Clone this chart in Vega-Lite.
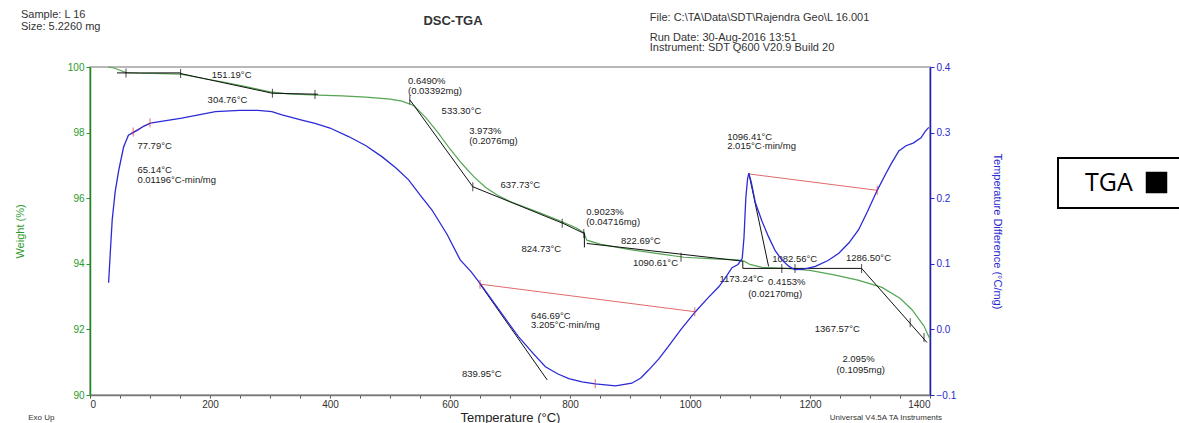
{
  "$schema": "https://vega.github.io/schema/vega-lite/v6.json",
  "width": 840,
  "height": 328,
  "autosize": "none",
  "padding": {"left": 90, "top": 67, "right": 249, "bottom": 28},
  "background": "white",
  "config": {
    "font": "Liberation Sans",
    "view": {"stroke": "#b8b8b8", "strokeWidth": 2},
    "axis": {"grid": false, "labelFont": "Liberation Sans", "titleFont": "Liberation Sans"}
  },
  "datasets": {
    "tga": [
      {"T": 30, "W": 100.0}, {"T": 40, "W": 99.97}, {"T": 50, "W": 99.9}, {"T": 60, "W": 99.83},
      {"T": 80, "W": 99.81}, {"T": 120, "W": 99.8}, {"T": 151, "W": 99.78}, {"T": 180, "W": 99.68},
      {"T": 220, "W": 99.55}, {"T": 260, "W": 99.4}, {"T": 300, "W": 99.24}, {"T": 330, "W": 99.18},
      {"T": 380, "W": 99.14}, {"T": 420, "W": 99.12}, {"T": 460, "W": 99.08}, {"T": 500, "W": 99.02},
      {"T": 520, "W": 98.96}, {"T": 540, "W": 98.82}, {"T": 560, "W": 98.45}, {"T": 580, "W": 98.0},
      {"T": 600, "W": 97.5}, {"T": 620, "W": 97.05}, {"T": 640, "W": 96.65}, {"T": 660, "W": 96.32},
      {"T": 680, "W": 96.08}, {"T": 700, "W": 95.9}, {"T": 740, "W": 95.62}, {"T": 780, "W": 95.33},
      {"T": 810, "W": 95.1}, {"T": 823, "W": 94.95}, {"T": 828, "W": 94.72}, {"T": 850, "W": 94.6},
      {"T": 900, "W": 94.43}, {"T": 950, "W": 94.3}, {"T": 990, "W": 94.2}, {"T": 1040, "W": 94.15},
      {"T": 1080, "W": 94.12}, {"T": 1090, "W": 94.08}, {"T": 1100, "W": 93.98}, {"T": 1120, "W": 93.89},
      {"T": 1160, "W": 93.86}, {"T": 1200, "W": 93.8}, {"T": 1240, "W": 93.66}, {"T": 1280, "W": 93.5},
      {"T": 1320, "W": 93.28}, {"T": 1350, "W": 92.95}, {"T": 1370, "W": 92.6}, {"T": 1390, "W": 92.1},
      {"T": 1400, "W": 91.7}
    ],
    "dsc": [
      {"T": 31, "D": 0.071}, {"T": 34, "D": 0.12}, {"T": 37, "D": 0.167}, {"T": 42, "D": 0.21},
      {"T": 48, "D": 0.243}, {"T": 56, "D": 0.278}, {"T": 64, "D": 0.296}, {"T": 78, "D": 0.303},
      {"T": 90, "D": 0.31}, {"T": 103, "D": 0.315}, {"T": 153, "D": 0.322}, {"T": 209, "D": 0.332},
      {"T": 250, "D": 0.334}, {"T": 280, "D": 0.334}, {"T": 303, "D": 0.332}, {"T": 320, "D": 0.327},
      {"T": 353, "D": 0.319}, {"T": 375, "D": 0.314}, {"T": 400, "D": 0.307}, {"T": 431, "D": 0.294},
      {"T": 460, "D": 0.28}, {"T": 487, "D": 0.263}, {"T": 510, "D": 0.246}, {"T": 531, "D": 0.228},
      {"T": 550, "D": 0.205}, {"T": 570, "D": 0.182}, {"T": 595, "D": 0.145}, {"T": 617, "D": 0.106},
      {"T": 635, "D": 0.088}, {"T": 650, "D": 0.07}, {"T": 680, "D": 0.032}, {"T": 714, "D": -0.011},
      {"T": 740, "D": -0.038}, {"T": 759, "D": -0.057}, {"T": 780, "D": -0.068}, {"T": 798, "D": -0.075},
      {"T": 820, "D": -0.08}, {"T": 842, "D": -0.083}, {"T": 876, "D": -0.086}, {"T": 903, "D": -0.082},
      {"T": 918, "D": -0.074}, {"T": 931, "D": -0.062}, {"T": 948, "D": -0.045}, {"T": 964, "D": -0.026},
      {"T": 985, "D": 0.0}, {"T": 1009, "D": 0.027}, {"T": 1030, "D": 0.048}, {"T": 1048, "D": 0.065},
      {"T": 1060, "D": 0.08}, {"T": 1070, "D": 0.094}, {"T": 1080, "D": 0.099}, {"T": 1087, "D": 0.108},
      {"T": 1090, "D": 0.14}, {"T": 1093, "D": 0.2}, {"T": 1096, "D": 0.23}, {"T": 1098, "D": 0.238},
      {"T": 1102, "D": 0.225}, {"T": 1109, "D": 0.193}, {"T": 1120, "D": 0.165}, {"T": 1131, "D": 0.141},
      {"T": 1142, "D": 0.12}, {"T": 1153, "D": 0.106}, {"T": 1165, "D": 0.096}, {"T": 1175, "D": 0.091},
      {"T": 1190, "D": 0.092}, {"T": 1209, "D": 0.096}, {"T": 1230, "D": 0.105}, {"T": 1248, "D": 0.116},
      {"T": 1265, "D": 0.132}, {"T": 1281, "D": 0.152}, {"T": 1296, "D": 0.18}, {"T": 1312, "D": 0.212},
      {"T": 1325, "D": 0.235}, {"T": 1335, "D": 0.252}, {"T": 1348, "D": 0.272}, {"T": 1360, "D": 0.28},
      {"T": 1372, "D": 0.284}, {"T": 1385, "D": 0.292}, {"T": 1392, "D": 0.302}, {"T": 1398, "D": 0.308}
    ],
    "tgaSeg": [
      {"s": "a", "T": 45, "W": 99.82}, {"s": "a", "T": 151, "W": 99.82},
      {"s": "b", "T": 151, "W": 99.8}, {"s": "b", "T": 304, "W": 99.2},
      {"s": "c", "T": 304, "W": 99.2}, {"s": "c", "T": 380, "W": 99.17},
      {"s": "d", "T": 533, "W": 99.0}, {"s": "d", "T": 638, "W": 96.35},
      {"s": "e", "T": 638, "W": 96.35}, {"s": "e", "T": 790, "W": 95.22},
      {"s": "f", "T": 790, "W": 95.22}, {"s": "f", "T": 823, "W": 94.93},
      {"s": "g", "T": 824, "W": 94.95}, {"s": "g", "T": 824, "W": 94.5},
      {"s": "h", "T": 828, "W": 94.62}, {"s": "h", "T": 1088, "W": 94.08},
      {"s": "i", "T": 1088, "W": 94.08}, {"s": "i", "T": 1088, "W": 93.86},
      {"s": "j", "T": 1088, "W": 93.86}, {"s": "j", "T": 1286, "W": 93.86},
      {"s": "k", "T": 1286, "W": 93.86}, {"s": "k", "T": 1395, "W": 91.6}
    ],
    "tgaTicks": [
      {"T": 60, "W": 99.82}, {"T": 151, "W": 99.8}, {"T": 304, "W": 99.2}, {"T": 375, "W": 99.16},
      {"T": 533, "W": 99.0}, {"T": 638, "W": 96.35}, {"T": 787, "W": 95.24}, {"T": 823, "W": 94.92},
      {"T": 985, "W": 94.2}, {"T": 1153, "W": 93.86}, {"T": 1175, "W": 93.86}, {"T": 1286, "W": 93.86},
      {"T": 1367, "W": 92.2}, {"T": 1390, "W": 91.75}
    ],
    "dscSeg": [
      {"s": "a", "T": 650, "D": 0.069}, {"s": "a", "T": 762, "D": -0.077},
      {"s": "b", "T": 1098, "D": 0.238}, {"s": "b", "T": 1131, "D": 0.096}
    ],
    "redSeg": [
      {"s": "a", "T": 650, "D": 0.069}, {"s": "a", "T": 1008, "D": 0.027},
      {"s": "b", "T": 1098, "D": 0.237}, {"s": "b", "T": 1312, "D": 0.212},
      {"s": "c", "T": 68, "D": 0.299}, {"s": "c", "T": 100, "D": 0.315}
    ],
    "redTicks": [
      {"T": 650, "D": 0.069}, {"T": 1008, "D": 0.027}, {"T": 842, "D": -0.083},
      {"T": 1312, "D": 0.212}, {"T": 72, "D": 0.301}, {"T": 100, "D": 0.315}
    ],
    "notes": [
      {"T": 203, "W": 99.76, "label": "151.19°C"},
      {"T": 196, "W": 98.99, "label": "304.76°C"},
      {"T": 530, "W": 99.57, "label": "0.6490%"},
      {"T": 530, "W": 99.27, "label": "(0.03392mg)"},
      {"T": 586, "W": 98.66, "label": "533.30°C"},
      {"T": 632, "W": 98.05, "label": "3.973%"},
      {"T": 632, "W": 97.74, "label": "(0.2076mg)"},
      {"T": 684, "W": 96.4, "label": "637.73°C"},
      {"T": 827, "W": 95.58, "label": "0.9023%"},
      {"T": 827, "W": 95.27, "label": "(0.04716mg)"},
      {"T": 885, "W": 94.7, "label": "822.69°C"},
      {"T": 719, "W": 94.45, "label": "824.73°C"},
      {"T": 905, "W": 94.02, "label": "1090.61°C"},
      {"T": 1062, "W": 97.87, "label": "1096.41°C"},
      {"T": 1062, "W": 97.59, "label": "2.015°C·min/mg"},
      {"T": 1137, "W": 94.15, "label": "1082.56°C"},
      {"T": 1049, "W": 93.54, "label": "1173.24°C"},
      {"T": 1130, "W": 93.45, "label": "0.4153%"},
      {"T": 1097, "W": 93.08, "label": "(0.02170mg)"},
      {"T": 1260, "W": 94.18, "label": "1286.50°C"},
      {"T": 1208, "W": 92.01, "label": "1367.57°C"},
      {"T": 1254, "W": 91.1, "label": "2.095%"},
      {"T": 1244, "W": 90.77, "label": "(0.1095mg)"},
      {"T": 735, "W": 92.41, "label": "646.69°C"},
      {"T": 735, "W": 92.13, "label": "3.205°C·min/mg"},
      {"T": 620, "W": 90.64, "label": "839.95°C"},
      {"T": 79, "W": 97.59, "label": "77.79°C"},
      {"T": 79, "W": 96.86, "label": "65.14°C"},
      {"T": 79, "W": 96.55, "label": "0.01196°C-min/mg"}
    ],
    "header": [
      {"T": -115, "W": 101.59, "label": "Sample: L 16"},
      {"T": -115, "W": 101.22, "label": "Size:  5.2260 mg"},
      {"T": 933, "W": 101.49, "label": "File: C:\\TA\\Data\\SDT\\Rajendra Geo\\L 16.001"},
      {"T": 933, "W": 100.88, "label": "Run Date: 30-Aug-2016 13:51"},
      {"T": 933, "W": 100.58, "label": "Instrument: SDT Q600 V20.9 Build 20"}
    ],
    "title": [
      {"T": 605, "W": 101.4, "label": "DSC-TGA"}
    ],
    "footer": [
      {"T": -103, "W": 89.3, "label": "Exo Up"},
      {"T": 1233, "W": 89.3, "label": "Universal V4.5A TA Instruments"}
    ]
  },
  "encoding": {
    "x": {
      "field": "T",
      "type": "quantitative",
      "scale": {"domain": [0, 1400], "nice": false, "zero": false},
      "axis": {
        "title": "Temperature (°C)",
        "titleFontSize": 13,
        "titleFontWeight": "normal",
        "titleColor": "#222222",
        "titlePadding": 2,
        "values": [0, 50, 100, 150, 200, 250, 300, 350, 400, 450, 500, 550, 600, 650, 700, 750, 800, 850, 900, 950, 1000, 1050, 1100, 1150, 1200, 1250, 1300, 1350, 1400],
        "labelExpr": "datum.value % 200 == 0 ? format(datum.value, 'd') : ''",
        "labelFontSize": 10,
        "labelColor": "#333333",
        "labelPadding": 1,
        "tickSize": 3,
        "tickColor": "#555555",
        "domainColor": "#777777",
        "domainWidth": 1.5
      }
    }
  },
  "layer": [
    {
      "layer": [
        {
          "data": {"name": "tga"},
          "mark": {"type": "line", "color": "#55a555", "strokeWidth": 1.2},
          "encoding": {
            "y": {
              "field": "W",
              "type": "quantitative",
              "scale": {"domain": [90, 100], "nice": false, "zero": false},
              "axis": {
                "orient": "left",
                "title": "Weight (%)",
                "titleColor": "#2a9a2a",
                "titleFontSize": 11,
                "titleFontWeight": "normal",
                "titlePadding": 42,
                "values": [90, 91, 92, 93, 94, 95, 96, 97, 98, 99, 100],
                "labelExpr": "datum.value % 2 == 0 ? format(datum.value, 'd') : ''",
                "labelColor": "#2a9a2a",
                "labelFontSize": 10,
                "tickColor": "#2a9a2a",
                "tickSize": 4,
                "domainColor": "#1f8a1f",
                "domainWidth": 1.5
              }
            }
          }
        },
        {
          "data": {"name": "tgaSeg"},
          "mark": {"type": "line", "color": "#111111", "strokeWidth": 1},
          "encoding": {
            "y": {"field": "W", "type": "quantitative"},
            "detail": {"field": "s"}
          }
        },
        {
          "data": {"name": "tgaTicks"},
          "mark": {"type": "tick", "orient": "vertical", "size": 9, "thickness": 1},
          "encoding": {
            "y": {"field": "W", "type": "quantitative"},
            "color": {
              "datum": "TGA",
              "scale": {"range": ["black"]},
              "legend": {
                "title": null,
                "orient": "none",
                "legendX": 968,
                "legendY": 91,
                "strokeColor": "black",
                "fillColor": "white",
                "padding": 12,
                "labelFont": "Open Sans",
                "labelFontSize": 25,
                "labelColor": "black",
                "symbolType": "square",
                "symbolSize": 400,
                "symbolOffset": 74,
                "labelOffset": -84,
                "symbolFillColor": "black",
                "symbolStrokeColor": "black",
                "symbolOpacity": 1,
                "encode": {
                  "legend": {"update": {"strokeWidth": {"value": 2}}},
                  "symbols": {"update": {"fill": {"value": "black"}, "fillOpacity": {"value": 1}, "stroke": {"value": "black"}, "shape": {"value": "square"}}}
                }
              }
            }
          }
        },
        {
          "data": {"name": "notes"},
          "mark": {"type": "text", "align": "left", "baseline": "middle", "fontSize": 9.5, "color": "#222222"},
          "encoding": {
            "y": {"field": "W", "type": "quantitative"},
            "text": {"field": "label"}
          }
        },
        {
          "data": {"name": "header"},
          "mark": {"type": "text", "align": "left", "baseline": "middle", "fontSize": 11, "color": "#333333"},
          "encoding": {
            "y": {"field": "W", "type": "quantitative"},
            "text": {"field": "label"}
          }
        },
        {
          "data": {"name": "title"},
          "mark": {"type": "text", "align": "center", "baseline": "middle", "fontSize": 13, "fontWeight": "bold", "color": "#333333"},
          "encoding": {
            "y": {"field": "W", "type": "quantitative"},
            "text": {"field": "label"}
          }
        },
        {
          "data": {"name": "footer"},
          "mark": {"type": "text", "align": "left", "baseline": "middle", "fontSize": 8, "color": "#333333"},
          "encoding": {
            "y": {"field": "W", "type": "quantitative"},
            "text": {"field": "label"}
          }
        }
      ]
    },
    {
      "layer": [
        {
          "data": {"name": "redSeg"},
          "mark": {"type": "line", "color": "#e06a6a", "strokeWidth": 1},
          "encoding": {
            "y": {
              "field": "D",
              "type": "quantitative",
              "scale": {"domain": [-0.1, 0.4], "nice": false, "zero": false},
              "axis": {
                "orient": "right",
                "title": "Temperature Difference (°C/mg)",
                "titleColor": "#2a2ad0",
                "titleFontSize": 11,
                "titleFontWeight": "normal",
                "titlePadding": 36,
                "values": [-0.1, -0.075, -0.05, -0.025, 0, 0.025, 0.05, 0.075, 0.1, 0.125, 0.15, 0.175, 0.2, 0.225, 0.25, 0.275, 0.3, 0.325, 0.35, 0.375, 0.4],
                "labelExpr": "abs(datum.value * 10 - round(datum.value * 10)) < 0.001 ? format(datum.value, '.1f') : ''",
                "labelColor": "#2a2ad0",
                "labelFontSize": 10,
                "tickColor": "#2a2ad0",
                "tickSize": 4,
                "domainColor": "#2020b8",
                "domainWidth": 1.5
              }
            },
            "detail": {"field": "s"}
          }
        },
        {
          "data": {"name": "dscSeg"},
          "mark": {"type": "line", "color": "#111111", "strokeWidth": 1},
          "encoding": {
            "y": {"field": "D", "type": "quantitative"},
            "detail": {"field": "s"}
          }
        },
        {
          "data": {"name": "dsc"},
          "mark": {"type": "line", "color": "#2b2bd6", "strokeWidth": 1.3},
          "encoding": {
            "y": {"field": "D", "type": "quantitative"}
          }
        },
        {
          "data": {"name": "redTicks"},
          "mark": {"type": "tick", "orient": "vertical", "size": 9, "thickness": 1, "color": "#d83030"},
          "encoding": {
            "y": {"field": "D", "type": "quantitative"}
          }
        }
      ]
    }
  ],
  "resolve": {"scale": {"y": "independent", "color": "independent"}}
}
